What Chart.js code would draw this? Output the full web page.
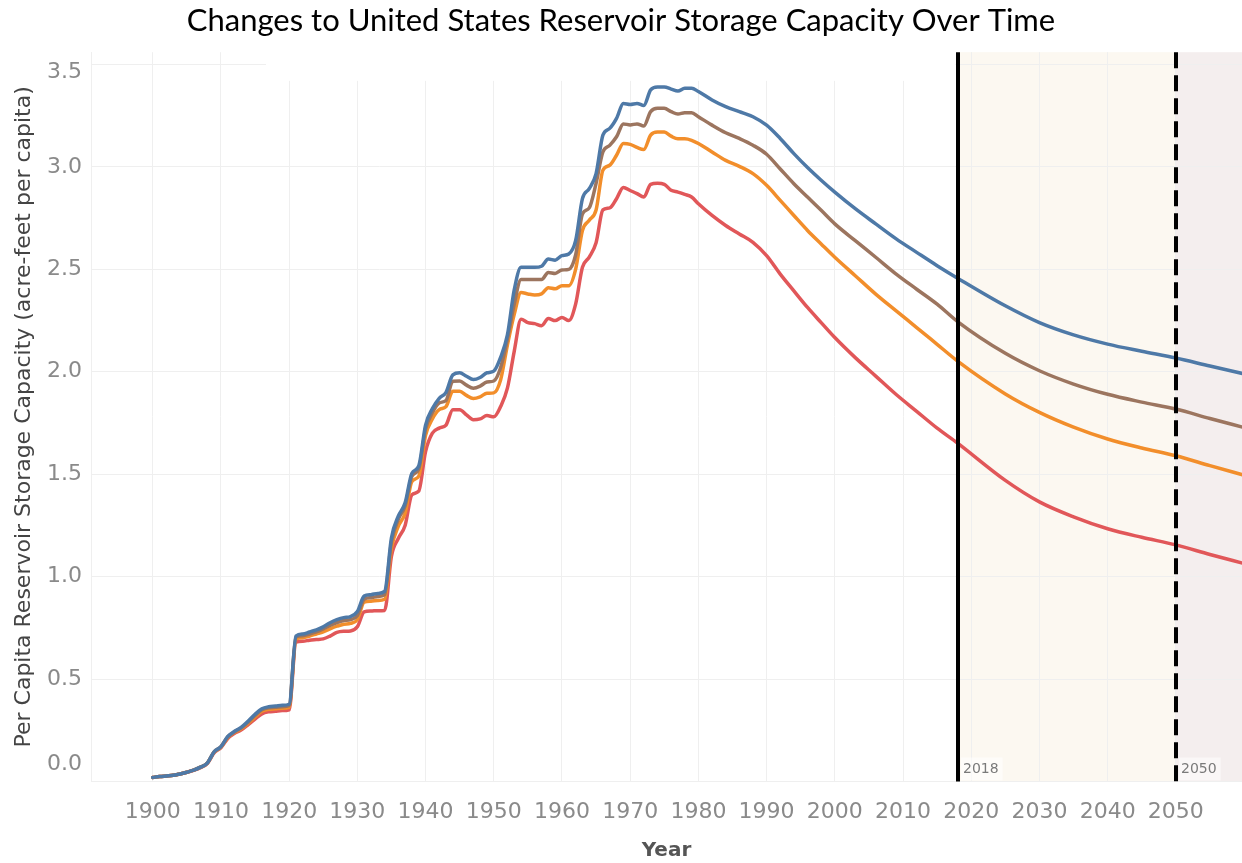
<!DOCTYPE html>
<html>
<head>
<meta charset="utf-8">
<title>Changes to United States Reservoir Storage Capacity Over Time</title>
<script src="https://cdn.jsdelivr.net/npm/chart.js@4.4.1/dist/chart.umd.min.js"></script>
<style>
  html, body { margin: 0; padding: 0; background: #fff; }
  canvas { display: block; }
</style>
</head>
<body>
<canvas id="storageChart" width="1242" height="863"></canvas>
<script>
// --- data ---
const years = [
  1900,1901,1902,1903,1904,1905,1906,1907,1908,1909,
  1910,1911,1912,1913,1914,1915,1916,1917,1918,1919,
  1920,1921,1922,1923,1924,1925,1926,1927,1928,1929,
  1930,1931,1932,1933,1934,1935,1936,1937,1938,1939,
  1940,1941,1942,1943,1944,1945,1946,1947,1948,1949,
  1950,1951,1952,1953,1954,1955,1956,1957,1958,1959,
  1960,1961,1962,1963,1964,1965,1966,1967,1968,1969,
  1970,1971,1972,1973,1974,1975,1976,1977,1978,1979,
  1980,
  1982,1984,1986,1988,1990,1992,1994,1996,1998,2000,
  2003,2006,2009,2012,2015,2018,
  2025,2030,2035,2040,2045,2050,2055,2060
];

const seriesBlue = [
  0.020,0.024,0.027,0.030,0.037,0.045,0.055,0.070,0.090,0.145,
  0.170,0.220,0.245,0.265,0.295,0.328,0.355,0.365,0.368,0.372,
  0.377,0.710,0.720,0.730,0.740,0.755,0.775,0.790,0.800,0.805,
  0.830,0.905,0.912,0.918,0.928,1.190,1.295,1.360,1.505,1.540,
  1.740,1.820,1.870,1.900,1.985,1.995,1.978,1.962,1.972,1.995,
  2.003,2.070,2.180,2.400,2.510,2.510,2.510,2.515,2.550,2.545,
  2.567,2.575,2.640,2.845,2.894,2.967,3.155,3.188,3.237,3.310,
  3.305,3.310,3.300,3.376,3.390,3.390,3.380,3.370,3.384,3.384,
  3.368,
  3.327,3.294,3.270,3.245,3.204,3.139,3.065,2.997,2.935,2.877,
  2.796,2.722,2.649,2.583,2.518,2.457,
  2.322,2.240,2.180,2.135,2.100,2.067,2.028,1.990
];

const seriesBrown = [
  0.020,0.024,0.027,0.030,0.037,0.045,0.055,0.070,0.090,0.145,
  0.170,0.218,0.243,0.262,0.290,0.322,0.350,0.360,0.362,0.365,
  0.370,0.705,0.712,0.720,0.730,0.745,0.762,0.776,0.786,0.790,
  0.810,0.890,0.897,0.903,0.912,1.170,1.280,1.345,1.490,1.525,
  1.720,1.800,1.848,1.860,1.954,1.955,1.935,1.920,1.930,1.950,
  1.955,2.020,2.160,2.330,2.450,2.450,2.450,2.450,2.485,2.480,
  2.497,2.500,2.570,2.770,2.800,2.920,3.073,3.105,3.147,3.210,
  3.205,3.210,3.200,3.270,3.286,3.286,3.270,3.258,3.265,3.265,
  3.245,
  3.204,3.167,3.139,3.106,3.062,2.990,2.918,2.853,2.788,2.722,
  2.640,2.559,2.477,2.403,2.330,2.245,
  2.090,2.005,1.940,1.890,1.852,1.818,1.772,1.728
];

const seriesOrange = [
  0.020,0.024,0.027,0.030,0.037,0.045,0.055,0.070,0.090,0.143,
  0.168,0.215,0.240,0.258,0.285,0.315,0.343,0.352,0.355,0.358,
  0.362,0.695,0.702,0.710,0.720,0.730,0.745,0.758,0.768,0.772,
  0.790,0.875,0.880,0.884,0.890,1.140,1.245,1.310,1.465,1.490,
  1.690,1.770,1.815,1.830,1.905,1.905,1.885,1.870,1.878,1.895,
  1.897,1.960,2.130,2.280,2.387,2.380,2.375,2.380,2.410,2.405,
  2.420,2.420,2.500,2.690,2.740,2.790,2.984,3.008,3.057,3.114,
  3.110,3.095,3.085,3.155,3.170,3.170,3.150,3.137,3.137,3.130,
  3.114,
  3.073,3.032,3.003,2.967,2.910,2.837,2.763,2.690,2.624,2.559,
  2.469,2.379,2.297,2.216,2.134,2.052,
  1.892,1.802,1.730,1.672,1.628,1.590,1.542,1.495
];

const seriesRed = [
  0.020,0.024,0.027,0.030,0.037,0.045,0.055,0.068,0.088,0.140,
  0.165,0.210,0.235,0.252,0.278,0.305,0.330,0.340,0.343,0.346,
  0.350,0.680,0.685,0.690,0.693,0.696,0.710,0.728,0.733,0.735,
  0.755,0.828,0.832,0.834,0.835,1.100,1.186,1.250,1.400,1.417,
  1.610,1.700,1.725,1.740,1.815,1.815,1.790,1.766,1.770,1.786,
  1.780,1.830,1.920,2.100,2.256,2.240,2.235,2.225,2.260,2.250,
  2.265,2.250,2.330,2.510,2.560,2.630,2.790,2.800,2.845,2.900,
  2.885,2.870,2.853,2.915,2.920,2.915,2.886,2.877,2.866,2.853,
  2.820,
  2.763,2.714,2.673,2.632,2.567,2.477,2.395,2.314,2.240,2.167,
  2.069,1.979,1.889,1.807,1.725,1.652,
  1.470,1.365,1.292,1.234,1.192,1.155,1.108,1.064
];

const markerYears = [2018, 2050];
const markerLabels = ['2018', '2050'];

// --- styling ---
const TICK_FONT = { family: 'DejaVu Sans', size: 22 };
const TICK_COLOR = '#8a8a8a';
const GRID_COLOR = '#efefef';

function line(data, color) {
    return {
        data: data,
        borderColor: color,
        backgroundColor: color,
        borderWidth: 3.5,
        pointRadius: 0,
        cubicInterpolationMode: 'monotone',
        borderJoinStyle: 'round',
        borderCapStyle: 'round',
        fill: false
    };
}

// shading for the projection period, marker lines and the shifted edge labels
const projectionPlugin = {
    id: 'projection',
    beforeDraw(chart) {
        const { ctx, chartArea: a, scales: { x } } = chart;
        const x1 = x.getPixelForValue(markerYears[0]);
        const x2 = x.getPixelForValue(markerYears[1]);
        ctx.save();
        ctx.fillStyle = '#fcf8f1';
        ctx.fillRect(x1, a.top, x2 - x1, a.bottom - a.top);
        ctx.fillStyle = '#f4eeee';
        ctx.fillRect(x2, a.top, a.right - x2, a.bottom - a.top);
        ctx.restore();
    },
    beforeDatasetsDraw(chart) {
        // blank strip along the top of the plot, as in the original screenshot
        const { ctx, chartArea: a, scales: { x, y } } = chart;
        const l = x.getPixelForValue(1916.6);
        const r = x.getPixelForValue(2017.7);
        const b = y.getPixelForValue(3.42);
        ctx.save();
        ctx.fillStyle = '#ffffff';
        ctx.fillRect(l, a.top - 1, r - l, b - a.top + 1);
        ctx.restore();
    },
    afterDatasetsDraw(chart) {
        const { ctx, chartArea: a, scales: { x, y } } = chart;
        ctx.save();
        ctx.strokeStyle = '#000';
        ctx.lineWidth = 4;
        markerYears.forEach((yr, i) => {
            const px = Math.round(x.getPixelForValue(yr));
            ctx.setLineDash(i === 0 ? [] : [16, 7]);
            ctx.beginPath();
            ctx.moveTo(px, a.top);
            ctx.lineTo(px, a.bottom);
            ctx.stroke();
        });
        ctx.setLineDash([]);
        ctx.font = '14px "DejaVu Sans"';
        ctx.textBaseline = 'middle';
        ctx.textAlign = 'left';
        markerLabels.forEach((txt, i) => {
            const px = Math.round(x.getPixelForValue(markerYears[i]));
            const w = ctx.measureText(txt).width;
            ctx.fillStyle = 'rgba(255,255,255,0.55)';
            ctx.fillRect(px + 3, a.bottom - 24, w + 6, 23);
            ctx.fillStyle = '#7a7a7a';
            ctx.fillText(txt, px + 5, a.bottom - 12);
        });

        // Tableau nudges the first and last y labels inside the plot
        ctx.font = TICK_FONT.size + 'px "' + TICK_FONT.family + '"';
        ctx.textAlign = 'right';
        ctx.fillStyle = TICK_COLOR;
        ctx.fillText('0.0', y.right - 9, y.getPixelForValue(0) - 17.5);
        ctx.fillText('3.5', y.right - 9, y.getPixelForValue(3.5) + 7.5);
        ctx.restore();
    }
};

new Chart(document.getElementById('storageChart'), {
    type: 'line',
    data: {
        labels: years,
        datasets: [
            line(seriesBlue, '#4e79a7'),
            line(seriesBrown, '#9c755f'),
            line(seriesOrange, '#f28e2b'),
            line(seriesRed, '#e15759')
        ]
    },
    options: {
        responsive: false,
        devicePixelRatio: 1,
        animation: false,
        events: [],
        layout: { padding: 0 },
        plugins: {
            legend: { display: false },
            tooltip: { enabled: false },
            title: {
                display: true,
                text: 'Changes to United States Reservoir Storage Capacity Over Time',
                color: '#000',
                font: { family: 'Lato', size: 31, weight: 'normal', lineHeight: 1.2 },
                padding: { top: 2, bottom: 13 }
            }
        },
        scales: {
            x: {
                type: 'linear',
                min: 1890.95,
                max: 2059.7,
                grid: { color: GRID_COLOR, drawTicks: false },
                border: { display: true, color: GRID_COLOR },
                ticks: {
                    stepSize: 10,
                    includeBounds: false,
                    autoSkip: false,
                    maxRotation: 0,
                    padding: 18,
                    color: TICK_COLOR,
                    font: TICK_FONT,
                    callback: v => String(v)
                },
                title: {
                    display: true,
                    text: 'Year',
                    color: '#555',
                    font: { family: 'DejaVu Sans', size: 20, weight: 'bold' },
                    padding: { top: 0, bottom: 0 }
                },
                afterFit(scale) { scale.height = 81.5; }
            },
            y: {
                min: 0,
                max: 3.56,
                grid: { color: GRID_COLOR, drawTicks: false },
                border: { display: true, color: GRID_COLOR },
                ticks: {
                    stepSize: 0.5,
                    includeBounds: false,
                    padding: 9,
                    font: TICK_FONT,
                    color: c => (c.tick && (c.tick.value === 0 || c.tick.value === 3.5)) ? 'rgba(0,0,0,0)' : TICK_COLOR,
                    callback: v => v.toFixed(1)
                },
                title: {
                    display: true,
                    text: 'Per Capita Reservoir Storage Capacity (acre-feet per capita)',
                    color: '#444',
                    font: { family: 'DejaVu Sans', size: 22, weight: 'normal' },
                    padding: { top: 11, bottom: 0 }
                },
                afterFit(scale) { scale.width = 91; }
            }
        }
    },
    plugins: [projectionPlugin]
});
</script>
</body>
</html>
